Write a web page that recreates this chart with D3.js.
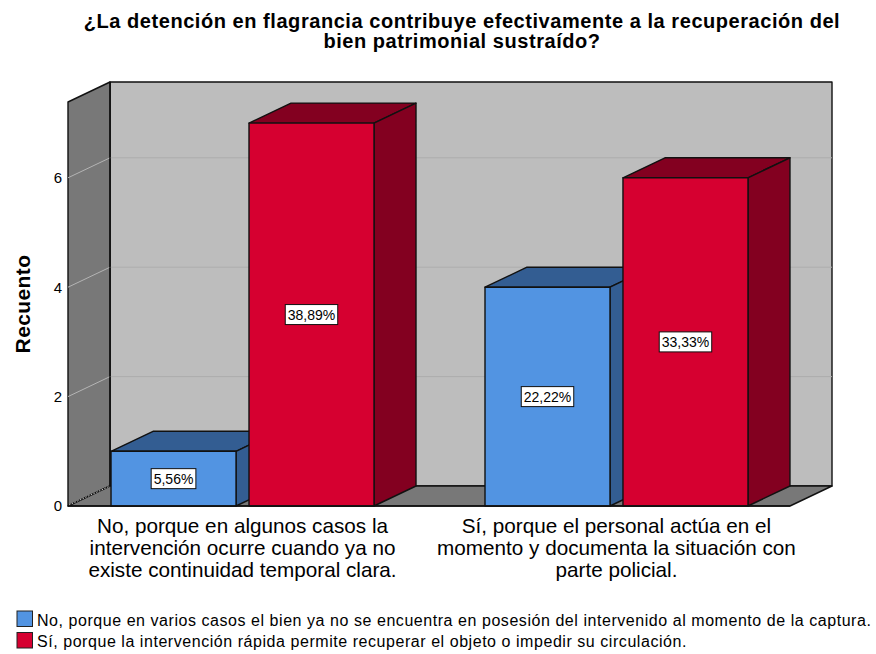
<!DOCTYPE html>
<html>
<head>
<meta charset="utf-8">
<script src="https://cdn.jsdelivr.net/npm/d3@7"></script>
<style>
html, body { margin: 0; padding: 0; background: #fff; }
text { font-family: "Liberation Sans", Arial, sans-serif; fill: #000; }
</style>
</head>
<body>
<svg id="chart" width="876" height="654"></svg>
<script>
const categories = ["No", "Si"];
const series = ["no", "si"];
const blueCounts = [1, 4];
const redCounts = [7, 6];
const bluePercent = ["5,56%", "22,22%"];
const redPercent = ["38,89%", "33,33%"];
const yTicks = [0, 2, 4, 6];
const categoryLines = [
    ["No, porque en algunos casos la", "intervención ocurre cuando ya no", "existe continuidad temporal clara."],
    ["Sí, porque el personal actúa en el", "momento y documenta la situación con", "parte policial."]
];
const legendLabels = [
    "No, porque en varios casos el bien ya no se encuentra en posesión del intervenido al momento de la captura.",
    "Sí, porque la intervención rápida permite recuperar el objeto o impedir su circulación."
];
const titleLines = [
    "¿La detención en flagrancia contribuye efectivamente a la recuperación del",
    "bien patrimonial sustraído?"
];

const colors = {
    no: { front: "#5294e2", dark: "#335d92" },
    si: { front: "#d60030", dark: "#830020" }
};

const svg = d3.select("#chart");

const plot = { left: 68, right: 790, top: 102, bottom: 506 };
const depth = { x: 42, y: -20 };

const y = d3.scaleLinear().domain([0, 7.386]).range([plot.bottom, plot.top]);
const x0 = d3.scaleBand().domain(categories).range([plot.left + 0.5, plot.right + 0.5])
    .paddingInner(0.2968).paddingOuter(0.1137);
const x1 = d3.scaleBand().domain(series).range([0, x0.bandwidth()]).paddingInner(0.094);

const poly = (pts, fill, stroke = "#111", sw = 1.4) => svg.append("polygon")
    .attr("points", pts.map(p => p.join(",")).join(" "))
    .attr("fill", fill)
    .attr("stroke", stroke)
    .attr("stroke-width", sw)
    .attr("stroke-linejoin", "round");

// walls and floor
poly([[plot.left + depth.x, plot.top + depth.y], [plot.right + depth.x, plot.top + depth.y],
      [plot.right + depth.x, plot.bottom + depth.y], [plot.left + depth.x, plot.bottom + depth.y]], "#bdbdbd");
poly([[plot.left, plot.top], [plot.left + depth.x, plot.top + depth.y],
      [plot.left + depth.x, plot.bottom + depth.y], [plot.left, plot.bottom]], "#787878");
poly([[plot.left, plot.bottom], [plot.left + depth.x, plot.bottom + depth.y],
      [plot.right + depth.x, plot.bottom + depth.y], [plot.right, plot.bottom]], "#787878");

// grid lines on left and back wall
yTicks.filter(d => d > 0).forEach(d => {
    svg.append("line")
        .attr("x1", plot.left).attr("y1", y(d))
        .attr("x2", plot.left + depth.x).attr("y2", y(d) + depth.y)
        .attr("stroke", "#b4b4b4").attr("stroke-width", 1);
    svg.append("line")
        .attr("x1", plot.left + depth.x).attr("y1", y(d) + depth.y)
        .attr("x2", plot.right + depth.x).attr("y2", y(d) + depth.y)
        .attr("stroke", "#adadad").attr("stroke-width", 1);
});
svg.append("line")
    .attr("x1", plot.left + 1).attr("y1", plot.bottom - 1)
    .attr("x2", plot.left + depth.x).attr("y2", plot.bottom + depth.y)
    .attr("stroke", "#c4c4c4").attr("stroke-dasharray", "1.5,1.5");

// redraw edges the grid lines crossed
svg.append("line")
    .attr("x1", plot.left + depth.x).attr("y1", plot.top + depth.y)
    .attr("x2", plot.left + depth.x).attr("y2", plot.bottom + depth.y)
    .attr("stroke", "#111").attr("stroke-width", 1.4);

// bars, left to right
const drawBar = (cat, key, value) => {
    const xl = x0(cat) + x1(key);
    const xr = xl + x1.bandwidth();
    const yt = y(value);
    const yb = y(0);
    poly([[xl, yt], [xl + depth.x, yt + depth.y], [xr + depth.x, yt + depth.y], [xr, yt]], colors[key].dark);
    poly([[xr, yt], [xr + depth.x, yt + depth.y], [xr + depth.x, yb + depth.y], [xr, yb]], colors[key].dark);
    poly([[xl, yt], [xr, yt], [xr, yb], [xl, yb]], colors[key].front);
};
categories.forEach((cat, i) => {
    drawBar(cat, "no", blueCounts[i]);
    drawBar(cat, "si", redCounts[i]);
});

// percent labels
const drawLabel = (cat, key, value, label) => {
    const cx = x0(cat) + x1(key) + x1.bandwidth() / 2;
    const cy = y(value / 2);
    const t = svg.append("text")
        .attr("x", cx).attr("y", cy + 5)
        .attr("text-anchor", "middle")
        .attr("font-size", 14)
        .text(label);
    const w = t.node().getComputedTextLength() + 5;
    svg.insert("rect", () => t.node())
        .attr("x", cx - w / 2).attr("y", cy - 10)
        .attr("width", w).attr("height", 20)
        .attr("fill", "#fff").attr("stroke", "#111").attr("stroke-width", 1);
};
categories.forEach((cat, i) => {
    drawLabel(cat, "no", blueCounts[i], bluePercent[i]);
    drawLabel(cat, "si", redCounts[i], redPercent[i]);
});

// front base line
svg.append("line")
    .attr("x1", plot.left).attr("y1", plot.bottom)
    .attr("x2", plot.right).attr("y2", plot.bottom)
    .attr("stroke", "#111").attr("stroke-width", 1.4);

// y axis
const yAxis = svg.append("g")
    .attr("transform", `translate(${plot.left},0)`)
    .call(d3.axisLeft(y).tickValues(yTicks).tickSize(0).tickPadding(6).tickFormat(d3.format("d")));
yAxis.select(".domain").remove();
yAxis.selectAll("text").attr("font-size", 15).style("font-family", '"Liberation Sans", Arial, sans-serif').attr("fill", "#000");

svg.append("text")
    .attr("transform", "translate(30,304) rotate(-90)")
    .attr("text-anchor", "middle")
    .attr("font-size", 21)
    .attr("letter-spacing", 0.4)
    .attr("font-weight", "bold")
    .text("Recuento");

// category labels
categories.forEach((cat, i) => {
    categoryLines[i].forEach((line, j) => {
        svg.append("text")
            .attr("x", x0(cat) + x0.bandwidth() / 2)
            .attr("y", 533 + j * 22)
            .attr("text-anchor", "middle")
            .attr("font-size", 20.7)
            .text(line);
    });
});

// title
titleLines.forEach((line, j) => {
    svg.append("text")
        .attr("x", 462)
        .attr("y", 28 + j * 20)
        .attr("text-anchor", "middle")
        .attr("font-size", 20)
        .attr("letter-spacing", 0.55)
        .attr("font-weight", "bold")
        .text(line);
});

// legend
legendLabels.forEach((label, i) => {
    const key = series[i];
    const rowY = 611 + i * 21.5;
    svg.append("rect")
        .attr("x", 17).attr("y", rowY)
        .attr("width", 15.5).attr("height", 15.5)
        .attr("fill", colors[key].front)
        .attr("stroke", "#222").attr("stroke-width", 1);
    svg.append("text")
        .attr("x", 37).attr("y", rowY + 14.5)
        .attr("font-size", 16)
        .attr("letter-spacing", 0.55)
        .text(label);
});
</script>
</body>
</html>
